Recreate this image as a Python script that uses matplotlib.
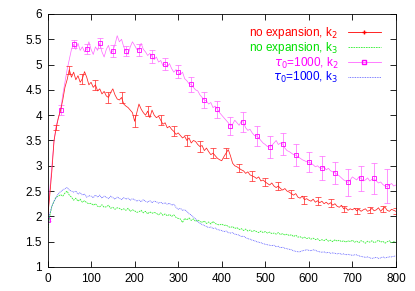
import numpy as np
import matplotlib
matplotlib.use("Agg")
import matplotlib.pyplot as plt
from matplotlib.lines import Line2D

plt.rcParams['font.family'] = ['Liberation Sans', 'DejaVu Sans']

# x grid of the curves (step 5)
x = np.arange(0, 801, 5)

# no expansion, k2
red = [1.95, 2.4, 2.9, 3.5, 3.75, 3.95, 4.1, 4.3, 4.55, 4.7, 4.9, 4.75, 4.85, 4.7, 4.78, 4.65, 4.72, 4.86, 4.75, 4.6, 4.65,
       4.55, 4.6, 4.48, 4.52, 4.42, 4.47, 4.38, 4.35, 4.45, 4.52, 4.4, 4.32, 4.3, 4.35, 4.22, 4.18, 4.15, 4.1, 4.05, 3.88,
       4.05, 4.22, 4.12, 4.05, 4.0, 4.08, 3.95, 4.1, 4.0, 3.95, 3.98, 3.9, 3.82, 3.85, 3.75, 3.78, 3.72, 3.68, 3.62, 3.65,
       3.6, 3.55, 3.58, 3.5, 3.55, 3.45, 3.5, 3.48, 3.42, 3.38, 3.4, 3.3, 3.35, 3.28, 3.22, 3.25, 3.2, 3.15, 3.12, 3.1,
       3.18, 3.25, 3.32, 3.2, 3.05, 3.0, 2.98, 2.95, 2.92, 2.9, 2.85, 2.88, 2.82, 2.8, 2.78, 2.75, 2.78, 2.7, 2.72, 2.68,
       2.65, 2.62, 2.66, 2.6, 2.57, 2.6, 2.55, 2.52, 2.55, 2.5, 2.48, 2.45, 2.42, 2.45, 2.38, 2.36, 2.4, 2.33, 2.35, 2.32,
       2.3, 2.34, 2.28, 2.31, 2.27, 2.3, 2.25, 2.28, 2.24, 2.27, 2.22, 2.25, 2.2, 2.18, 2.22, 2.15, 2.17, 2.12, 2.15, 2.13,
       2.16, 2.11, 2.14, 2.1, 2.13, 2.15, 2.1, 2.12, 2.16, 2.11, 2.13, 2.17, 2.1, 2.15, 2.18, 2.12, 2.1, 2.14, 2.12, 2.1]

# no expansion, k3
green = [1.67, 2.0, 2.2, 2.3, 2.38, 2.4, 2.43, 2.4, 2.46, 2.5, 2.42, 2.38, 2.32, 2.36, 2.3, 2.34, 2.28, 2.31, 2.27, 2.25, 2.26,
         2.22, 2.25, 2.2, 2.19, 2.23, 2.18, 2.19, 2.22, 2.16, 2.18, 2.14, 2.17, 2.16, 2.13, 2.15, 2.12, 2.16, 2.1, 2.13, 2.11,
         2.08, 2.09, 2.12, 2.07, 2.1, 2.05, 2.09, 2.06, 2.08, 2.06, 2.03, 2.07, 2.02, 2.05, 2.01, 2.04, 2.0, 2.03, 1.98, 1.96,
         1.95, 1.88, 1.96, 1.93, 1.97, 1.92, 1.95, 1.9, 1.93, 1.9, 1.88, 1.91, 1.86, 1.89, 1.85, 1.9, 1.86, 1.84, 1.83, 1.85,
         1.82, 1.83, 1.8, 1.78, 1.8, 1.76, 1.78, 1.74, 1.76, 1.72, 1.75, 1.71, 1.73, 1.7, 1.72, 1.7, 1.68, 1.71, 1.68, 1.7,
         1.67, 1.69, 1.66, 1.67, 1.65, 1.68, 1.64, 1.66, 1.63, 1.65, 1.62, 1.64, 1.6, 1.63, 1.59, 1.6, 1.57, 1.59, 1.56, 1.58,
         1.55, 1.57, 1.54, 1.56, 1.52, 1.54, 1.52, 1.55, 1.51, 1.53, 1.5, 1.54, 1.51, 1.53, 1.5, 1.52, 1.49, 1.52, 1.5, 1.53,
         1.49, 1.51, 1.48, 1.52, 1.5, 1.47, 1.51, 1.49, 1.52, 1.48, 1.5, 1.53, 1.49, 1.51, 1.47, 1.5, 1.52, 1.48, 1.5, 1.49]

# tau0=1000, k2
magenta = [1.93, 2.5, 3.0, 3.5, 3.8, 3.95, 4.1, 4.4, 4.65, 4.9, 5.1, 5.3, 5.4, 5.3, 5.42, 5.28, 5.35, 5.25, 5.31, 5.45, 5.3,
           5.2, 5.35, 5.28, 5.42, 5.25, 5.15, 5.3, 5.38, 5.22, 5.27, 5.4, 5.57, 5.45, 5.5, 5.35, 5.27, 5.2, 5.35, 5.45, 5.38,
           5.3, 5.29, 5.42, 5.3, 5.25, 5.18, 5.22, 5.16, 5.1, 5.15, 5.05, 5.08, 4.98, 5.01, 4.95, 5.02, 4.92, 4.85, 4.9, 4.86,
           4.8, 4.85, 4.72, 4.68, 4.62, 4.61, 4.55, 4.5, 4.48, 4.4, 4.35, 4.3, 4.28, 4.22, 4.25, 4.15, 4.18, 4.12, 4.05, 4.0,
           3.95, 3.9, 3.85, 3.79, 3.82, 3.9, 3.85, 3.8, 3.88, 3.86, 3.75, 3.7, 3.72, 3.65, 3.6, 3.59, 3.55, 3.5, 3.45, 3.42,
           3.38, 3.37, 3.4, 3.45, 3.5, 3.42, 3.45, 3.43, 3.35, 3.3, 3.28, 3.25, 3.22, 3.21, 3.18, 3.15, 3.12, 3.1, 3.08, 3.07,
           3.05, 3.02, 2.98, 3.0, 2.96, 2.95, 2.98, 2.92, 2.95, 2.9, 2.88, 2.86, 2.83, 2.8, 2.76, 2.72, 2.7, 2.67, 2.72, 2.78,
           2.75, 2.72, 2.78, 2.75, 2.7, 2.72, 2.76, 2.7, 2.73, 2.74, 2.7, 2.66, 2.68, 2.63, 2.6, 2.59, 2.62, 2.65, 2.6, 2.62]

# tau0=1000, k3
blue = [1.8, 2.05, 2.2, 2.3, 2.38, 2.45, 2.49, 2.52, 2.55, 2.57, 2.52, 2.5, 2.48, 2.5, 2.44, 2.47, 2.42, 2.44, 2.38, 2.41, 2.4,
        2.37, 2.42, 2.38, 2.42, 2.36, 2.4, 2.38, 2.35, 2.4, 2.37, 2.34, 2.38, 2.36, 2.33, 2.37, 2.34, 2.36, 2.32, 2.35, 2.33,
        2.3, 2.32, 2.29, 2.33, 2.3, 2.28, 2.31, 2.27, 2.3, 2.29, 2.26, 2.28, 2.25, 2.27, 2.24, 2.26, 2.22, 2.24, 2.18, 2.14,
        2.16, 2.12, 2.13, 2.1, 2.05, 2.03, 1.98, 1.95, 1.9, 1.86, 1.84, 1.82, 1.8, 1.78, 1.79, 1.76, 1.77, 1.74, 1.73, 1.72,
        1.7, 1.71, 1.68, 1.67, 1.68, 1.65, 1.64, 1.63, 1.6, 1.61, 1.58, 1.56, 1.55, 1.53, 1.52, 1.5, 1.49, 1.48, 1.46, 1.45,
        1.44, 1.43, 1.42, 1.43, 1.4, 1.41, 1.38, 1.39, 1.37, 1.36, 1.35, 1.34, 1.32, 1.31, 1.3, 1.3, 1.32, 1.33, 1.34, 1.33,
        1.32, 1.34, 1.33, 1.31, 1.3, 1.29, 1.3, 1.28, 1.29, 1.27, 1.28, 1.27, 1.26, 1.27, 1.25, 1.26, 1.24, 1.25, 1.24, 1.23,
        1.24, 1.24, 1.22, 1.21, 1.2, 1.19, 1.2, 1.18, 1.17, 1.18, 1.19, 1.17, 1.18, 1.2, 1.18, 1.19, 1.2, 1.2, 1.21, 1.22]

# error bars
red_err_x = np.arange(20, 801, 30)
red_err = [0.05, 0.08, 0.1, 0.1, 0.1, 0.1, 0.12, 0.1, 0.1, 0.1, 0.1, 0.1, 0.1, 0.1, 0.08, 0.1, 0.08, 0.08,
           0.08, 0.08, 0.08, 0.08, 0.06, 0.06, 0.06, 0.06, 0.06]
mag_sq_x = np.arange(0, 781, 30)
mag_sq_y = [1.93, 4.1, 5.41, 5.31, 5.42, 5.27, 5.27, 5.29, 5.16, 5.01, 4.86, 4.61, 4.30, 4.12, 3.79, 3.86, 3.59,
            3.37, 3.43, 3.21, 3.08, 2.96, 2.86, 2.67, 2.75, 2.75, 2.60]
mag_err = [0.03, 0.1, 0.08, 0.1, 0.1, 0.12, 0.1, 0.12, 0.12, 0.12, 0.13, 0.15, 0.15, 0.17, 0.18, 0.2, 0.2,
           0.22, 0.22, 0.22, 0.2, 0.24, 0.22, 0.26, 0.24, 0.3, 0.33]

labels = ["no expansion, k$_2$", "no expansion, k$_3$", r"$\tau_0$=1000, k$_2$", r"$\tau_0$=1000, k$_3$"]
colors = ["#ff0000", "#00e000", "#ff00ff", "#0000ff"]
line_cols = ["#ff2020", "#30ee30", "#ff66ff", "#5555ff"]

fig = plt.figure(figsize=(4.15, 2.91), dpi=100)
ax = fig.add_axes([0.1145, 0.0825, 0.8395, 0.8695])

red_arr = np.array(red)
red_err_y = red_arr[red_err_x // 5]

ax.plot(x, magenta, color=line_cols[2], lw=0.5)
ax.errorbar(mag_sq_x, mag_sq_y, yerr=mag_err, fmt='none', ecolor=line_cols[2], elinewidth=0.5,
            capsize=2, capthick=0.5)
ax.plot(mag_sq_x, mag_sq_y, ls='none', marker='s', mfc='none', mec=colors[2], ms=3.5, mew=0.6)
ax.plot(x, red, color=line_cols[0], lw=0.55)
ax.errorbar(red_err_x, red_err_y, yerr=red_err, fmt='none', ecolor=line_cols[0], elinewidth=0.5,
            capsize=2, capthick=0.5)
ax.plot(x, green, color=line_cols[1], lw=0.6, ls=(0, (2, 1)))
ax.plot(x, blue, color=line_cols[3], lw=0.6, ls=(0, (1, 1)))

ax.set_xlim(0, 800)
ax.set_ylim(1, 6)
ax.set_xticks(np.arange(0, 801, 100))
ax.set_yticks(np.arange(1, 6.01, 0.5))
ax.set_yticklabels(["1", "1.5", "2", "2.5", "3", "3.5", "4", "4.5", "5", "5.5", "6"])
ax.tick_params(direction='in', top=True, right=True, length=4, width=0.6, labelsize=8.5, pad=4)
for s in ax.spines.values():
    s.set_linewidth(0.6)

handles = [
    Line2D([], [], color=colors[0], lw=0.6, marker='+', ms=3),
    Line2D([], [], color=line_cols[1], lw=0.6, ls=(0, (2, 1))),
    Line2D([], [], color=line_cols[2], lw=0.6, marker='s', mfc='none', mec=colors[2], ms=3),
    Line2D([], [], color=line_cols[3], lw=0.6, ls=(0, (1, 1))),
]
leg = ax.legend(handles, labels, loc='upper right', bbox_to_anchor=(0.98, 0.99), frameon=False,
                markerfirst=False, fontsize=8.5, handlelength=2.8, handletextpad=0.8,
                labelspacing=-0.05, borderpad=0.2, numpoints=1)
for t, c in zip(leg.get_texts(), colors):
    t.set_color(c)

fig.savefig("out.png", dpi=100)
